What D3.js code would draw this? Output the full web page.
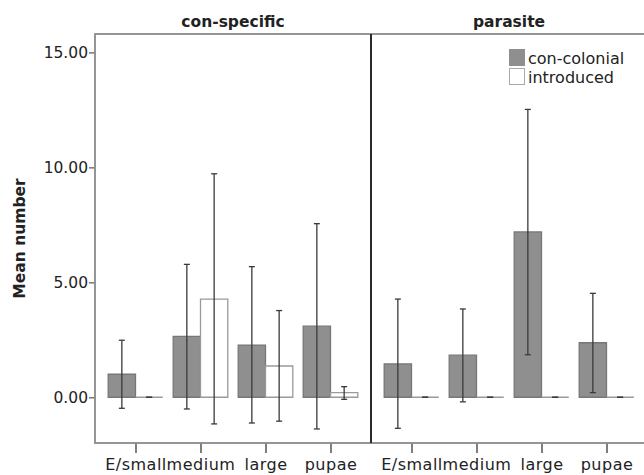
<!DOCTYPE html>
<html>
<head>
<meta charset="utf-8">
<script src="https://cdn.jsdelivr.net/npm/d3@7"></script>
<style>
  body { margin: 0; background: #fff; }
  text { font-family: 'DejaVu Sans', sans-serif; }
</style>
</head>
<body>
<div id="graph"></div>
<script>
const panels = ['con-specific', 'parasite'];
const stages = ['E/small', 'medium', 'large', 'pupae'];
const groups = ['con-colonial', 'introduced'];
const yTicks = [0, 5, 10, 15];

// mean, lower and upper error bar, read per panel and stage
const colonialMean = [[1.0, 2.65, 2.27, 3.09], [1.45, 1.83, 7.19, 2.37]];
const colonialLow = [[-0.48, -0.51, -1.12, -1.38], [-1.35, -0.2, 1.85, 0.2]];
const colonialHigh = [[2.48, 5.78, 5.68, 7.55], [4.27, 3.84, 12.52, 4.52]];
const introducedMean = [[0, 4.27, 1.36, 0.2], [0, 0, 0, 0]];
const introducedLow = [[0, -1.16, -1.04, -0.09], [0, 0, 0, 0]];
const introducedHigh = [[0, 9.72, 3.77, 0.46], [0, 0, 0, 0]];

let margin = { top: 34, left: 95 },
  panelW = 276,
  height = 409;

const fill = { 'con-colonial': '#8f8f8f', introduced: '#ffffff' };
const edge = { 'con-colonial': '#777', introduced: '#9a9a9a' };

let svg = d3.select('#graph').append('svg')
  .attr('width', 644)
  .attr('height', 475);

let yScale = d3.scaleLinear().domain([-1.99, 15.8]).range([height, 0]);
let xScale = d3.scalePoint().domain(stages).range([0, panelW]).padding(0.623);
let barW = xScale.step() * 0.42;

let vis = svg.append('g')
  .attr('transform', 'translate(' + margin.left + ',' + margin.top + ')');

// y axis
let yAxis = d3.axisLeft(yScale).tickValues(yTicks).tickSize(6).tickFormat(d3.format('.2f'));
let gy = vis.append('g').call(yAxis);
gy.select('.domain').remove();
gy.selectAll('line').attr('stroke', '#777').attr('stroke-width', 1.5);
gy.selectAll('text').attr('font-size', 15.5).attr('fill', '#222').attr('x', -7);

svg.append('text')
  .attr('transform', 'translate(25,' + (margin.top + height / 2) + ') rotate(-90)')
  .attr('text-anchor', 'middle')
  .attr('font-size', 15.5)
  .attr('font-weight', 'bold')
  .attr('fill', '#222')
  .text('Mean number');

panels.forEach((p, pi) => {
  let g = vis.append('g').attr('transform', 'translate(' + pi * panelW + ',0)');

  g.append('text')
    .attr('x', panelW / 2)
    .attr('y', -7)
    .attr('text-anchor', 'middle')
    .attr('font-size', 15.5)
    .attr('font-weight', 'bold')
    .attr('fill', '#222')
    .text(p);

  let rows = stages.map((s, i) => [
    { stage: s, group: 'con-colonial', v: colonialMean[pi][i], lo: colonialLow[pi][i], hi: colonialHigh[pi][i], off: -barW },
    { stage: s, group: 'introduced', v: introducedMean[pi][i], lo: introducedLow[pi][i], hi: introducedHigh[pi][i], off: 0 }
  ]).flat();

  // bars as paths so zero-height bars still show their outline
  g.selectAll('path.bar').data(rows).join('path')
    .attr('class', 'bar')
    .attr('d', (d) => {
      let x0 = xScale(d.stage) + d.off;
      return 'M' + x0 + ',' + yScale(0) + 'H' + (x0 + barW) + 'V' + yScale(d.v) + 'H' + x0 + 'Z';
    })
    .attr('fill', (d) => fill[d.group])
    .attr('stroke', (d) => edge[d.group])
    .attr('stroke-width', 1.3);

  let eb = g.selectAll('g.err').data(rows).join('g')
    .attr('class', 'err')
    .attr('transform', (d) => 'translate(' + (xScale(d.stage) + d.off + barW / 2) + ',0)')
    .attr('stroke', '#3a3a3a')
    .attr('stroke-width', 1.3);
  eb.append('line').attr('y1', (d) => yScale(d.lo)).attr('y2', (d) => yScale(d.hi));
  eb.append('line').attr('x1', -3).attr('x2', 3).attr('y1', (d) => yScale(d.lo)).attr('y2', (d) => yScale(d.lo));
  eb.append('line').attr('x1', -3).attr('x2', 3).attr('y1', (d) => yScale(d.hi)).attr('y2', (d) => yScale(d.hi));

  // x axis
  let gx = g.append('g')
    .attr('transform', 'translate(0,' + height + ')')
    .call(d3.axisBottom(xScale).tickSize(10).tickPadding(6));
  gx.select('.domain').remove();
  gx.selectAll('line').attr('stroke', '#555').attr('stroke-width', 1.5);
  gx.selectAll('text').attr('font-size', 16).attr('letter-spacing', 0.5).attr('fill', '#222');
});

// frame
vis.append('rect')
  .attr('width', panelW * 2)
  .attr('height', height)
  .attr('fill', 'none')
  .attr('stroke', '#8a8a8a')
  .attr('stroke-width', 1.8);
vis.append('line')
  .attr('x1', panelW).attr('x2', panelW)
  .attr('y1', 0).attr('y2', height)
  .attr('stroke', '#2a2a2a')
  .attr('stroke-width', 2);

// legend
let legend = svg.append('g').attr('transform', 'translate(509,49)');
groups.forEach((k, i) => {
  legend.append('rect')
    .attr('x', 0.5).attr('y', i * 19 + 0.5)
    .attr('width', 15).attr('height', 16)
    .attr('fill', fill[k])
    .attr('stroke', k === 'introduced' ? '#aaa' : '#8f8f8f');
  legend.append('text')
    .attr('x', 19).attr('y', i * 19 + 15)
    .attr('font-size', 16)
    .attr('fill', '#222')
    .text(k);
});
</script>
</body>
</html>
